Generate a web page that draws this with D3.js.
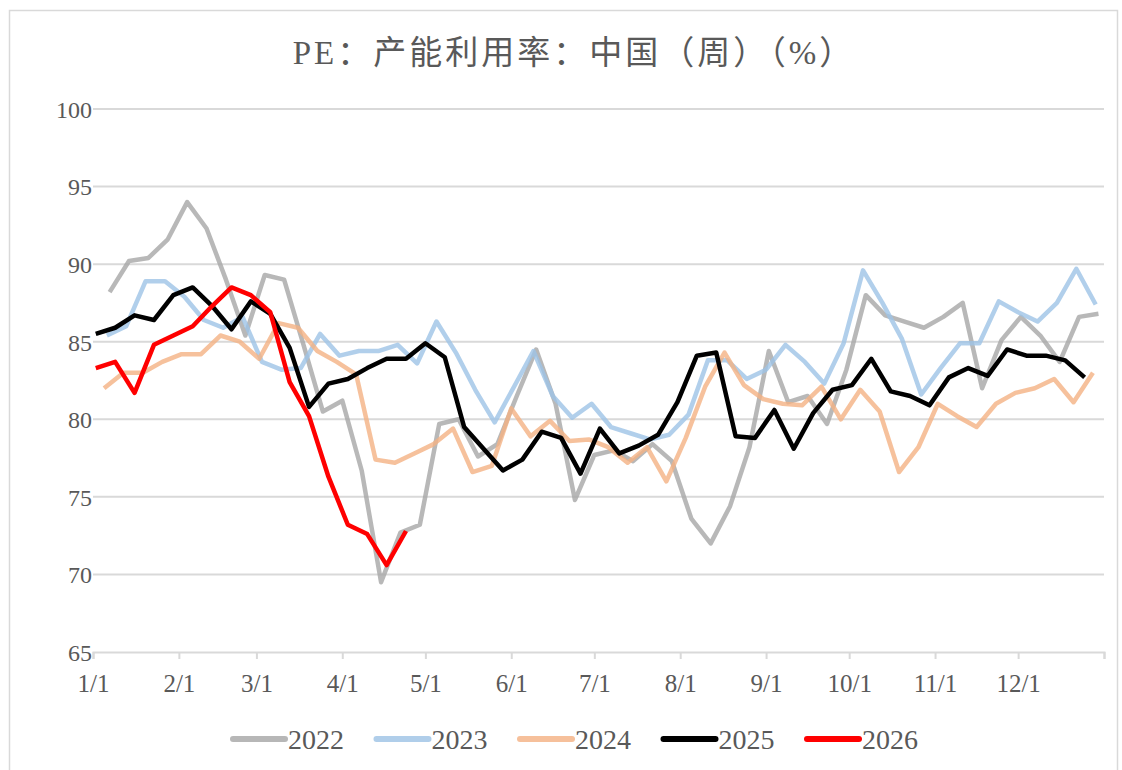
<!DOCTYPE html>
<html>
<head>
<meta charset="utf-8">
<script src="https://cdn.jsdelivr.net/npm/d3@7"></script>
<style>
  body { margin: 0; background: #fff; }
  text { font-family: "Liberation Serif", "Noto Sans CJK SC", serif; fill: #595959; }
</style>
</head>
<body>
<div id="chart"></div>
<script>
// weekly readings, first week date of each year (placed on a common Jan-Dec axis)
const years = ["2022", "2023", "2024", "2025", "2026"]
const startDays = ["01-07", "01-06", "01-05", "01-02", "01-02"]
const colors = ["#A6A6A6", "#9DC3E6", "#F4B183", "#000000", "#FF0000"]

const v2022 = [88.2, 90.2, 90.4, 91.6, 94.0, 92.3, 89.0, 85.4, 89.3, 89.0, 84.8, 80.5, 81.2, 76.7, 69.5, 72.7, 73.2, 79.7, 80.0, 77.6,
  78.4, 81.5, 84.5, 81.0, 74.8, 77.7, 78.0, 77.3, 78.4, 77.3, 73.6, 72.0, 74.4, 78.2, 84.4, 81.1, 81.5, 79.7, 83.2, 88.0,
  86.7, 86.3, 85.9, 86.6, 87.5, 82.0, 85.1, 86.6, 85.4, 83.7, 86.6, 86.8]
const v2023 = [85.4, 86.0, 88.9, 88.9, 87.9, 86.4, 85.9, 86.6, 83.7, 83.2, 83.3, 85.5, 84.1, 84.4, 84.4, 84.8, 83.6, 86.3, 84.3, 81.9,
  79.8, 82.1, 84.4, 81.5, 80.1, 81.0, 79.5, 79.1, 78.7, 79.0, 80.3, 83.8, 83.8, 82.6, 83.2, 84.8, 83.7, 82.3, 84.9, 89.6,
  87.5, 85.2, 81.6, 83.3, 84.9, 84.9, 87.6, 86.9, 86.3, 87.5, 89.7, 87.4]
const v2024 = [82.0, 83.0, 83.0, 83.7, 84.2, 84.2, 85.4, 85.0, 83.9, 86.2, 85.9, 84.4, 83.7, 82.9, 77.4, 77.2, 77.8, 78.4, 79.4, 76.6,
  77.0, 80.7, 78.9, 79.9, 78.6, 78.7, 78.2, 77.2, 78.2, 76.0, 78.8, 82.1, 84.3, 82.2, 81.3, 81.0, 80.9, 82.1, 80.0, 81.9,
  80.5, 76.6, 78.2, 81.0, 80.2, 79.5, 81.0, 81.7, 82.0, 82.6, 81.1, 83.0]
const v2025 = [85.5, 85.9, 86.7, 86.4, 88.0, 88.5, 87.3, 85.8, 87.6, 86.8, 84.6, 80.8, 82.3, 82.6, 83.3, 83.9, 83.9, 84.9, 84.0, 79.5,
  78.1, 76.7, 77.4, 79.2, 78.8, 76.5, 79.4, 77.8, 78.3, 79.0, 81.1, 84.1, 84.3, 78.9, 78.8, 80.6, 78.1, 80.4, 81.9, 82.2,
  83.9, 81.8, 81.5, 80.9, 82.7, 83.3, 82.8, 84.5, 84.1, 84.1, 83.8, 82.7]
const v2026 = [83.3, 83.7, 81.7, 84.8, 85.4, 86.0, 87.3, 88.5, 88.0, 86.9, 82.4, 80.2, 76.3, 73.2, 72.6, 70.6, 72.8]
const values = [v2022, v2023, v2024, v2025, v2026]

const yTicks = [65, 70, 75, 80, 85, 90, 95, 100]

const W = 1122, H = 770
const margin = { top: 109, right: 18, bottom: 118, left: 93 },
  width = W - margin.left - margin.right,
  height = H - margin.top - margin.bottom

const root = d3.select("#chart").append("svg")
  .attr("width", W)
  .attr("height", H)

// outer frame
root.append("rect")
  .attr("x", 9.5).attr("y", 10.5)
  .attr("width", 1108).attr("height", 780)
  .attr("fill", "none")
  .attr("stroke", "#d9d9d9")
  .attr("stroke-width", 1.5)

root.append("text")
  .attr("x", 574).attr("y", 64)
  .attr("text-anchor", "middle")
  .style("font-size", "33px")
  .style("letter-spacing", "3px")
  .text("PE：产能利用率：中国（周）（%）")

const svg = root.append("g")
  .attr("transform", `translate(${margin.left},${margin.top})`)

const parse = d3.timeParse("%Y-%m-%d")
const x = d3.scaleTime()
  .domain([parse("2023-01-01"), parse("2024-01-01")])
  .range([0, width])

const y = d3.scaleLinear()
  .domain([65, 100])
  .range([height, 0])

// gridlines
svg.append("g")
  .selectAll("line")
  .data(yTicks.slice(1))
  .join("line")
  .attr("x1", 0).attr("x2", width)
  .attr("y1", d => y(d)).attr("y2", d => y(d))
  .attr("stroke", "#d9d9d9")
  .attr("stroke-width", 2)

// y axis labels
const yAxis = svg.append("g")
  .call(d3.axisLeft(y).tickValues(yTicks).tickSize(0).tickPadding(0))
yAxis.select(".domain").remove()
yAxis.selectAll("text")
  .attr("x", -1)
  .attr("dy", "0.35em")
  .style("font-size", "24px")
  .style("fill", "#595959")

// x axis
const xAxis = svg.append("g")
  .attr("transform", `translate(0,${height})`)
  .call(d3.axisBottom(x)
    .ticks(d3.timeMonth.every(1))
    .tickSize(7)
    .tickPadding(10)
    .tickFormat(d => d.getFullYear() === 2024 ? "" : (d.getMonth() + 1) + "/1"))
xAxis.select(".domain").attr("stroke", "#d9d9d9").attr("stroke-width", 2)
xAxis.selectAll(".tick line").attr("stroke", "#d9d9d9").attr("stroke-width", 2)
xAxis.selectAll("text")
  .attr("dy", "0.9em")
  .style("font-size", "25px")
  .style("fill", "#595959")

// series
const line = d3.line()
  .x(d => x(d.date))
  .y(d => y(d.value))

years.forEach((yr, i) => {
  const start = parse("2023-" + startDays[i])
  const pts = values[i].map((v, k) => ({ date: d3.timeDay.offset(start, 7 * k), value: v }))
  svg.append("path")
    .datum(pts)
    .attr("fill", "none")
    .attr("stroke", colors[i])
    .attr("stroke-width", 4.5)
    .attr("stroke-linejoin", "round")
    .attr("opacity", i < 3 ? 0.8 : 1)
    .attr("d", line)
})

// legend
const legend = root.append("g")
  .attr("transform", "translate(231,739)")
const item = legend.selectAll("g")
  .data(years)
  .join("g")
  .attr("transform", (d, i) => `translate(${i * 143.5},0)`)
item.append("line")
  .attr("x1", 2).attr("x2", 54)
  .attr("stroke", (d, i) => colors[i])
  .attr("stroke-width", 6)
  .attr("stroke-linecap", "round")
  .attr("opacity", (d, i) => i < 3 ? 0.8 : 1)
item.append("text")
  .attr("x", 57)
  .attr("dy", "0.36em")
  .style("font-size", "28px")
  .text(d => d)
</script>
</body>
</html>
